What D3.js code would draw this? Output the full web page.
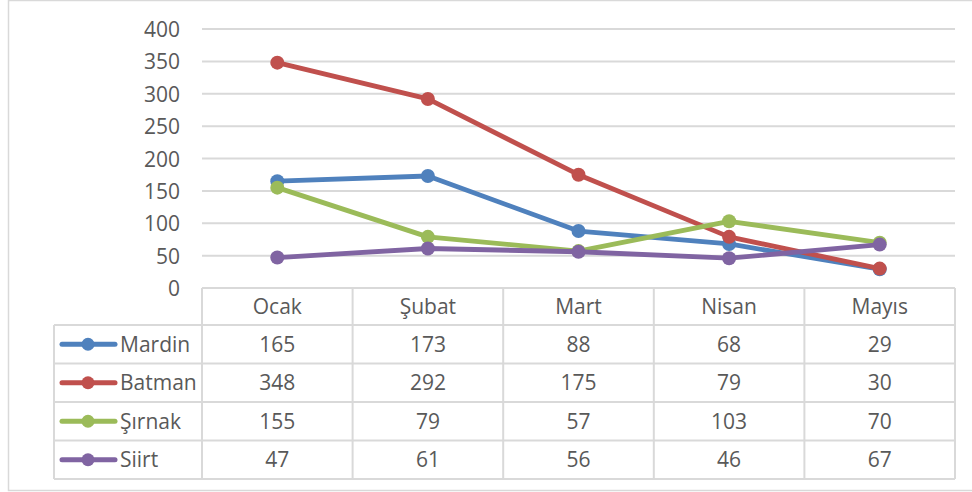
<!DOCTYPE html>
<html><head><meta charset="utf-8">
<script src="https://cdn.jsdelivr.net/npm/d3@7"></script>
<style>body{margin:0;background:#fff;} text{font-family:"Open Sans","Noto Sans",sans-serif;}</style>
</head><body>
<svg id="c" width="972" height="492"></svg>
<script>
const categories = ["Ocak","Şubat","Mart","Nisan","Mayıs"];
const seriesNames = ["Mardin","Batman","Şırnak","Siirt"];
const mardin = [165,173,88,68,29];
const batman = [348,292,175,79,30];
const sirnak = [155,79,57,103,70];
const siirt = [47,61,56,46,67];
const yTicks = [0,50,100,150,200,250,300,350,400];
const colors = ["#4F81BD","#C0504D","#9BBB59","#8064A2"];
const series = [mardin,batman,sirnak,siirt].map((v,i)=>({name:seriesNames[i],values:v,color:colors[i]}));

const svg = d3.select("#c");
svg.append("rect").attr("x",8.5).attr("y",0.5).attr("width",975).attr("height",490).attr("fill","#fff").attr("stroke","#d9d9d9").attr("stroke-width",1.5);

const pLeft=202,pRight=955,pTop=29,pBottom=288;
const fs="21px";
const x = d3.scaleBand().domain(categories).range([pLeft,pRight]);
const y = d3.scaleLinear().domain([0,400]).range([pBottom,pTop]);
const gridC="#d9d9d9", txtC="#595959";

svg.append("g").selectAll("line").data(yTicks.filter(t=>t>0)).join("line")
  .attr("x1",pLeft).attr("x2",pRight).attr("y1",d=>y(d)).attr("y2",d=>y(d))
  .attr("stroke",gridC).attr("stroke-width",2);

const yAxis = d3.axisLeft(y).tickValues(yTicks).tickSize(0).tickPadding(22);
const ga = svg.append("g").attr("transform",`translate(${pLeft},0)`).call(yAxis);
ga.select(".domain").remove();
ga.selectAll("text").attr("fill",txtC).attr("dy","0.36em").style("font-size",fs).style("font-family","'Open Sans','Noto Sans',sans-serif");

const rowH = [37,38.5,38.5,38.5,38.5];
const tableLeft = 54;
const rowY = [pBottom];
rowH.forEach((h,i)=>rowY.push(rowY[i]+h));
const tg = svg.append("g");
tg.append("line").attr("x1",pLeft).attr("x2",pRight).attr("y1",rowY[0]).attr("y2",rowY[0]).attr("stroke",gridC).attr("stroke-width",2);
for(let i=1;i<rowY.length;i++){
  tg.append("line").attr("x1",tableLeft).attr("x2",pRight).attr("y1",rowY[i]).attr("y2",rowY[i]).attr("stroke",gridC).attr("stroke-width",2);
}
tg.append("line").attr("x1",tableLeft).attr("x2",tableLeft).attr("y1",rowY[1]).attr("y2",rowY[5]).attr("stroke",gridC).attr("stroke-width",2);
const vx = categories.map(c=>x(c)).concat([pRight]);
vx.forEach(v=>tg.append("line").attr("x1",v).attr("x2",v).attr("y1",rowY[0]).attr("y2",rowY[5]).attr("stroke",gridC).attr("stroke-width",2));

tg.selectAll("text.h").data(categories).join("text").attr("class","h")
  .attr("x",d=>x(d)+x.bandwidth()/2).attr("y",(rowY[0]+rowY[1])/2+7.5)
  .attr("text-anchor","middle").attr("fill",txtC).style("font-size",fs).text(d=>d);

series.forEach((s,i)=>{
  const cy=(rowY[i+1]+rowY[i+2])/2;
  tg.append("line").attr("x1",62).attr("x2",115).attr("y1",cy).attr("y2",cy).attr("stroke",s.color).attr("stroke-width",5).attr("stroke-linecap","round");
  tg.append("circle").attr("cx",88).attr("cy",cy).attr("r",6.5).attr("fill",s.color);
  tg.append("text").attr("x",120).attr("y",cy+7.5).attr("fill",txtC).style("font-size",fs).text(s.name);
  tg.selectAll(null).data(s.values).join("text")
    .attr("x",(d,j)=>x(categories[j])+x.bandwidth()/2).attr("y",cy+7.5)
    .attr("text-anchor","middle").attr("fill",txtC).style("font-size",fs).text(d=>d);
});

const line = d3.line().x((d,j)=>x(categories[j])+x.bandwidth()/2).y(d=>y(d));
series.forEach(s=>{
  svg.append("path").datum(s.values).attr("d",line).attr("fill","none").attr("stroke",s.color).attr("stroke-width",4.8).attr("stroke-linejoin","round").attr("stroke-linecap","round");
  svg.append("g").selectAll("circle").data(s.values).join("circle")
    .attr("cx",(d,j)=>x(categories[j])+x.bandwidth()/2).attr("cy",d=>y(d)).attr("r",7).attr("fill",s.color);
});
</script>
</body></html>
